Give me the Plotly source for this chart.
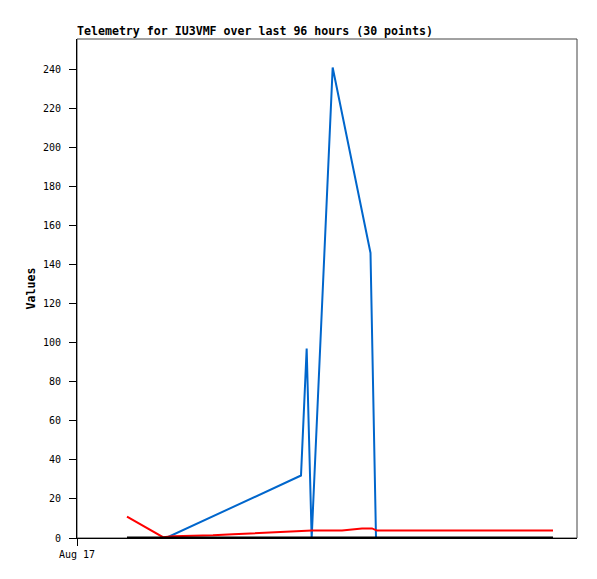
import plotly.graph_objects as go

# ---- data ----
blue_times = ["2024-08-17 17:48", "2024-08-18 20:48", "2024-08-18 21:56", "2024-08-18 22:56",
              "2024-08-19 03:08", "2024-08-19 10:42", "2024-08-19 11:48"]
blue_values = [0, 32, 97, 0, 241, 146, 0]

red_times = ["2024-08-17 10:00", "2024-08-17 17:12", "2024-08-17 19:12", "2024-08-17 23:24",
             "2024-08-18 03:12", "2024-08-18 07:12", "2024-08-18 11:12", "2024-08-18 15:00",
             "2024-08-18 19:00", "2024-08-18 23:00", "2024-08-19 05:00", "2024-08-19 07:00",
             "2024-08-19 09:00", "2024-08-19 11:00", "2024-08-19 12:00", "2024-08-20 23:12"]
red_values = [11, 0.4, 0.9, 1.1, 1.4, 1.9, 2.5, 3.0, 3.4, 3.9, 3.9, 4.3, 4.9, 4.9, 3.8, 3.8]

black_times = ["2024-08-17 10:00", "2024-08-20 23:12"]
black_values = [0, 0]

y_ticks = list(range(0, 241, 20))
x_tick_vals = ["2024-08-17 00:00"]
x_tick_text = ["Aug 17"]

title_text = "Telemetry for IU3VMF over last 96 hours (30 points)"
y_title = "Values"

MONO = "DejaVu Sans Mono"

fig = go.Figure()
fig.add_trace(go.Scatter(x=blue_times, y=blue_values, mode="lines",
                         line=dict(color="#0066cc", width=2), showlegend=False))
fig.add_trace(go.Scatter(x=red_times, y=red_values, mode="lines",
                         line=dict(color="#ff0000", width=2), showlegend=False))
fig.add_trace(go.Scatter(x=black_times, y=black_values, mode="lines",
                         line=dict(color="#000000", width=3), showlegend=False))

fig.update_layout(
    width=589, height=571,
    margin=dict(l=69, r=20, t=30.5, b=40.5),
    paper_bgcolor="white", plot_bgcolor="white",
    font=dict(family=MONO, size=10, color="black"),
    title=dict(text=title_text, x=0, xanchor="left", xref="paper",
               y=1 - 26.5/571, yanchor="bottom", yref="container",
               font=dict(family=MONO, size=11.6, color="black", weight="bold")),
    xaxis=dict(type="date", range=["2024-08-17 00:00", "2024-08-21 04:00"],
               tickvals=x_tick_vals, ticktext=x_tick_text,
               showgrid=False, zeroline=False, showline=True, linecolor="black", linewidth=1,
               ticks="outside", ticklen=7, tickcolor="black", tickwidth=1,
               tickfont=dict(family=MONO, size=10, color="black")),
    yaxis=dict(range=[0, 255.6], tickvals=y_ticks,
               showgrid=False, zeroline=False, showline=True, linecolor="black", linewidth=1,
               ticks="outside", ticklen=7, tickcolor="black", tickwidth=1,
               ticklabelstandoff=6,
               tickfont=dict(family=MONO, size=10, color="black"),
               title=dict(text=y_title, standoff=4,
                          font=dict(family=MONO, size=11.6, color="black", weight="bold"))),
    shapes=[dict(type="rect", xref="paper", yref="paper", x0=0, x1=1, y0=0, y1=1,
                 line=dict(color="#444444", width=1), fillcolor="rgba(0,0,0,0)", layer="below")],
)

fig.write_html("out.html")
